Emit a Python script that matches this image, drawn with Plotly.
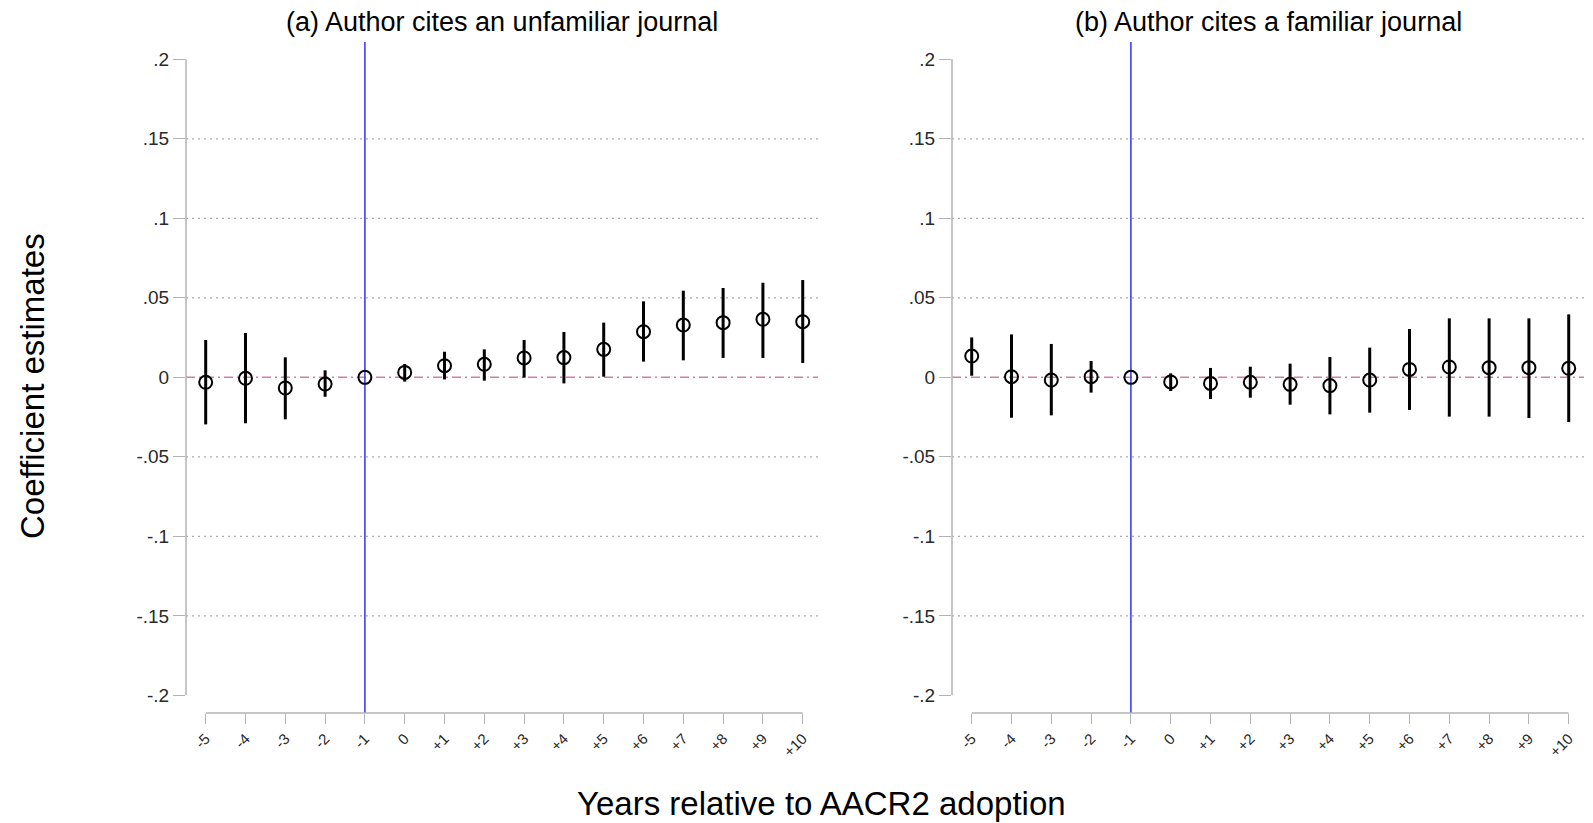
import plotly.graph_objects as go

# ---------------- data ----------------
years = [-5, -4, -3, -2, -1, 0, 1, 2, 3, 4, 5, 6, 7, 8, 9, 10]
year_labels = ["-5", "-4", "-3", "-2", "-1", "0", "+1", "+2", "+3", "+4",
               "+5", "+6", "+7", "+8", "+9", "+10"]

# (a) Author cites an unfamiliar journal
a_coef = [-0.0031, -0.0006, -0.0067, -0.0042, 0.0, 0.0031, 0.0073, 0.0082,
          0.0122, 0.0124, 0.0176, 0.0287, 0.0329, 0.0344, 0.0365, 0.0350]
a_lo = [-0.0296, -0.0289, -0.0264, -0.0122, 0.0, -0.0027, -0.0013, -0.0021,
        -0.0002, -0.0038, 0.0004, 0.0099, 0.0107, 0.0122, 0.0122, 0.0090]
a_hi = [0.0235, 0.0279, 0.0126, 0.0044, 0.0, 0.0084, 0.0161, 0.0176,
        0.0235, 0.0285, 0.0344, 0.0478, 0.0545, 0.0562, 0.0595, 0.0612]

# (b) Author cites a familiar journal
b_coef = [0.0134, 0.0004, -0.0017, 0.0004, 0.0, -0.0029, -0.0038, -0.0031,
          -0.0044, -0.0052, -0.0017, 0.0050, 0.0065, 0.0061, 0.0061, 0.0057]
b_lo = [0.0010, -0.0254, -0.0239, -0.0096, 0.0, -0.0086, -0.0136, -0.0128,
        -0.0172, -0.0233, -0.0222, -0.0205, -0.0247, -0.0247, -0.0256, -0.0281]
b_hi = [0.0251, 0.0270, 0.0210, 0.0103, 0.0, 0.0025, 0.0059, 0.0067,
        0.0086, 0.0128, 0.0187, 0.0304, 0.0371, 0.0371, 0.0371, 0.0396]

y_ticks = [-0.2, -0.15, -0.1, -0.05, 0, 0.05, 0.1, 0.15, 0.2]
y_tick_labels = ["-.2", "-.15", "-.1", "-.05", "0", ".05", ".1", ".15", ".2"]
grid_vals = [-0.15, -0.1, -0.05, 0.05, 0.1, 0.15]
ref_year = -1
zero_val = 0

panel_titles = ["(a) Author cites an unfamiliar journal",
                "(b) Author cites a familiar journal"]
x_title = "Years relative to AACR2 adoption"
y_title = "Coefficient estimates"

# ---------------- layout helpers ----------------
W, H = 1593, 823
FONT = "Liberation Sans, Arial, Helvetica, sans-serif"
TXT = "#2a2a2a"
AXC = "#b3b3b3"


def px(x):
    return x / W


def py(y):
    return 1 - y / H


panels = [
    dict(x0=186, x1=818, coef=a_coef, lo=a_lo, hi=a_hi, xa="x", ya="y"),
    dict(x0=952, x1=1584, coef=b_coef, lo=b_lo, hi=b_hi, xa="x2", ya="y2"),
]
top_px, bot_px = 42, 713
x_range = [-5.495, 10.384]
y_range = [-0.2111, 0.2109]

fig = go.Figure()

for i, p in enumerate(panels):
    plus = [h - c for h, c in zip(p["hi"], p["coef"])]
    minus = [c - l for c, l in zip(p["coef"], p["lo"])]
    fig.add_trace(go.Scatter(
        x=years, y=p["coef"], mode="markers",
        xaxis=p["xa"], yaxis=p["ya"],
        marker=dict(symbol="circle-open", size=13, color="black",
                    line=dict(width=2, color="black")),
        error_y=dict(type="data", symmetric=False, array=plus,
                     arrayminus=minus, thickness=3, width=0, color="black"),
        showlegend=False, cliponaxis=False,
    ))

    sfx = "" if i == 0 else "2"
    xref = "x" + sfx
    yref = "y" + sfx
    # gridlines
    for g in grid_vals:
        fig.add_shape(type="line", xref=xref + " domain", yref=yref,
                      x0=0, x1=1, y0=g, y1=g, layer="below",
                      line=dict(color="#ababab", width=1.4, dash="2px,4px"))
    # zero line
    fig.add_shape(type="line", xref=xref + " domain", yref=yref,
                  x0=0, x1=1, y0=zero_val, y1=zero_val, layer="below",
                  line=dict(color="#d47fab", width=1.5, dash="9px,4px,2px,4px"))
    # vertical reference line
    fig.add_shape(type="line", xref=xref, yref=yref + " domain",
                  x0=ref_year, x1=ref_year, y0=0, y1=1, layer="below",
                  line=dict(color="#3030ff", width=1.5))
    # y axis line (spans ticks only)
    fig.add_shape(type="line", xref=xref + " domain", yref=yref,
                  x0=0, x1=0, y0=y_ticks[0], y1=y_ticks[-1],
                  line=dict(color=AXC, width=1.5))
    # x axis line (spans ticks only)
    fig.add_shape(type="line", xref=xref, yref=yref + " domain",
                  x0=years[0], x1=years[-1], y0=0, y1=0,
                  line=dict(color=AXC, width=1.5))

    # panel title
    fig.add_annotation(text=panel_titles[i], xref="paper", yref="paper",
                       x=px((p["x0"] + p["x1"]) / 2), y=py(22),
                       xanchor="center", yanchor="middle", showarrow=False,
                       font=dict(family=FONT, size=27, color="black"))

xcommon = dict(range=x_range, tickmode="array", tickvals=years,
               ticktext=year_labels, tickangle=-45, ticks="outside",
               ticklen=10, tickwidth=1.4, tickcolor=AXC, showgrid=False,
               zeroline=False, showline=False,
               tickfont=dict(family=FONT, size=15, color=TXT))
ycommon = dict(range=y_range, tickmode="array", tickvals=y_ticks,
               ticktext=y_tick_labels, ticks="outside", ticklen=12,
               tickwidth=1.4, tickcolor=AXC, showgrid=False, zeroline=False,
               showline=False,
               tickfont=dict(family=FONT, size=19, color=TXT))

fig.update_layout(
    width=W, height=H,
    margin=dict(l=0, r=0, t=0, b=0),
    paper_bgcolor="white", plot_bgcolor="white",
    xaxis=dict(domain=[px(panels[0]["x0"]), px(panels[0]["x1"])],
               anchor="y", **xcommon),
    yaxis=dict(domain=[py(bot_px), py(top_px)], anchor="x", **ycommon),
    xaxis2=dict(domain=[px(panels[1]["x0"]), px(panels[1]["x1"])],
                anchor="y2", **xcommon),
    yaxis2=dict(domain=[py(bot_px), py(top_px)], anchor="x2", **ycommon),
    font=dict(family=FONT, color=TXT),
)

fig.add_annotation(text=x_title, xref="paper", yref="paper",
                   x=px(821), y=py(803), xanchor="center", yanchor="middle",
                   showarrow=False, font=dict(family=FONT, size=33, color="black"))
fig.add_annotation(text=y_title, xref="paper", yref="paper",
                   x=px(32), y=py(386), xanchor="center", yanchor="middle",
                   textangle=-90, showarrow=False,
                   font=dict(family=FONT, size=33, color="black"))

fig.write_html("out.html",
               config={"displayModeBar": False},
               post_script="document.body.style.margin='0';"
                           "document.body.style.overflow='hidden';")
